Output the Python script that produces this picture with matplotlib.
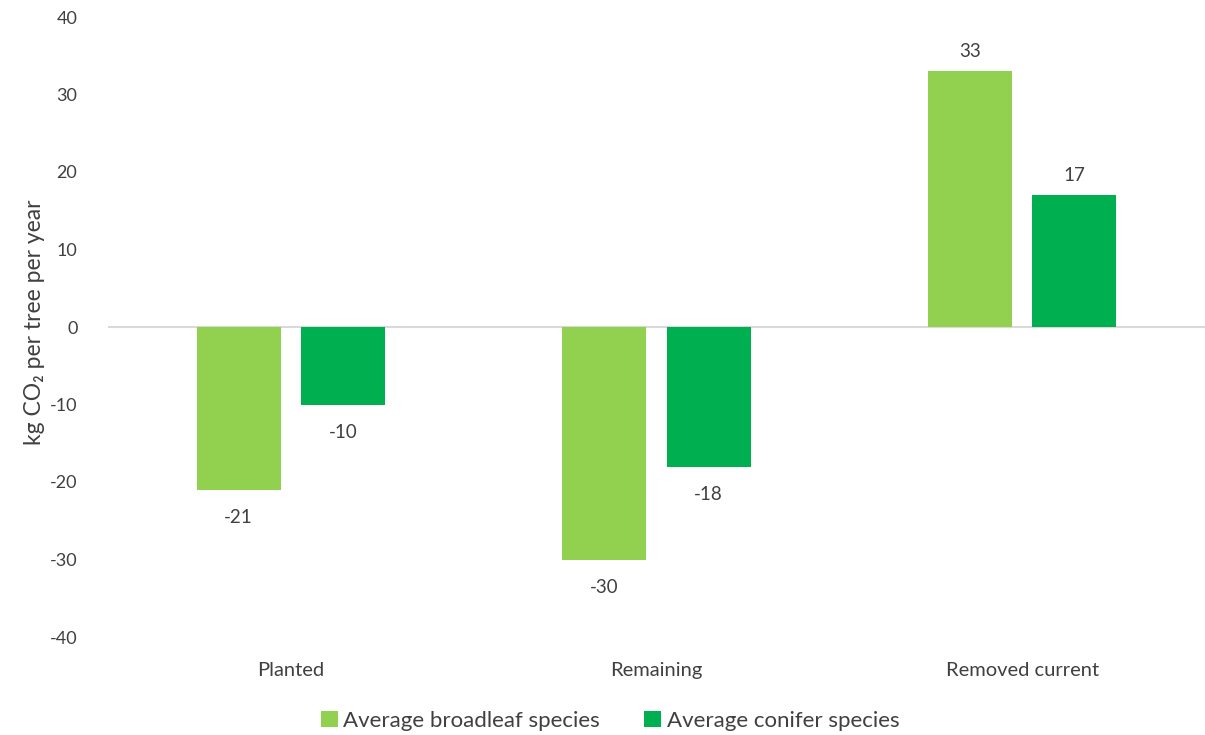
import matplotlib
matplotlib.use("Agg")
import matplotlib.pyplot as plt
import numpy as np

categories = ["Planted", "Remaining", "Removed current"]
broadleaf = [-21, -30, 33]
conifer = [-10, -18, 17]
series_names = ["Average broadleaf species", "Average conifer species"]
y_ticks = [-40, -30, -20, -10, 0, 10, 20, 30, 40]

plt.rcParams["font.family"] = ["Lato", "DejaVu Sans"]
text_color = "#404040"
c_broad = "#92D050"
c_con = "#00B050"

fig = plt.figure(figsize=(12.05, 7.35), dpi=100)
ax = fig.add_axes([108 / 1205, 98 / 735, 1 - 108 / 1205, 620 / 735])

x = np.arange(len(categories))
w = 0.23
gap = 0.055
b1 = ax.bar(x - (w + gap) / 2, broadleaf, w, color=c_broad, label=series_names[0], zorder=2)
b2 = ax.bar(x + (w + gap) / 2, conifer, w, color=c_con, label=series_names[1], zorder=2)

for bars, vals in ((b1, broadleaf), (b2, conifer)):
    for rect, v in zip(bars, vals):
        cx = rect.get_x() + rect.get_width() / 2
        if v >= 0:
            ax.annotate(f"{v:.0f}", (cx, v), xytext=(0, 8), textcoords="offset points",
                        ha="center", va="bottom", fontsize=13.5, color=text_color)
        else:
            ax.annotate(f"{v:.0f}", (cx, v), xytext=(0, -14), textcoords="offset points",
                        ha="center", va="top", fontsize=13.5, color=text_color)

ax.axhline(0, color="#D9D9D9", linewidth=1.5, zorder=1)
ax.set_xlim(-0.5, 2.5)
ax.set_ylim(-40, 40)
ax.set_yticks(y_ticks)
ax.set_yticklabels([str(t) for t in y_ticks], fontsize=13, color=text_color)
ax.set_xticks(x)
ax.set_xticklabels(categories, fontsize=14.5, color=text_color)
ax.tick_params(axis="both", length=0)
ax.tick_params(axis="y", pad=22)
ax.tick_params(axis="x", pad=18)
for s in ax.spines.values():
    s.set_visible(False)

fig.text(35 / 1205, 1 - 322 / 735, "kg CO\u2082 per tree per year", rotation=90,
         ha="center", va="center", fontsize=16.5, color=text_color)

fig.legend(handles=[b1, b2], labels=series_names, loc="center",
           bbox_to_anchor=(610 / 1205, 1 - 721 / 735), ncol=2, frameon=False,
           fontsize=16, handlelength=0.75, handleheight=0.75, handletextpad=0.25,
           columnspacing=2.0, labelcolor=text_color)

fig.savefig("out.png", dpi=100)
